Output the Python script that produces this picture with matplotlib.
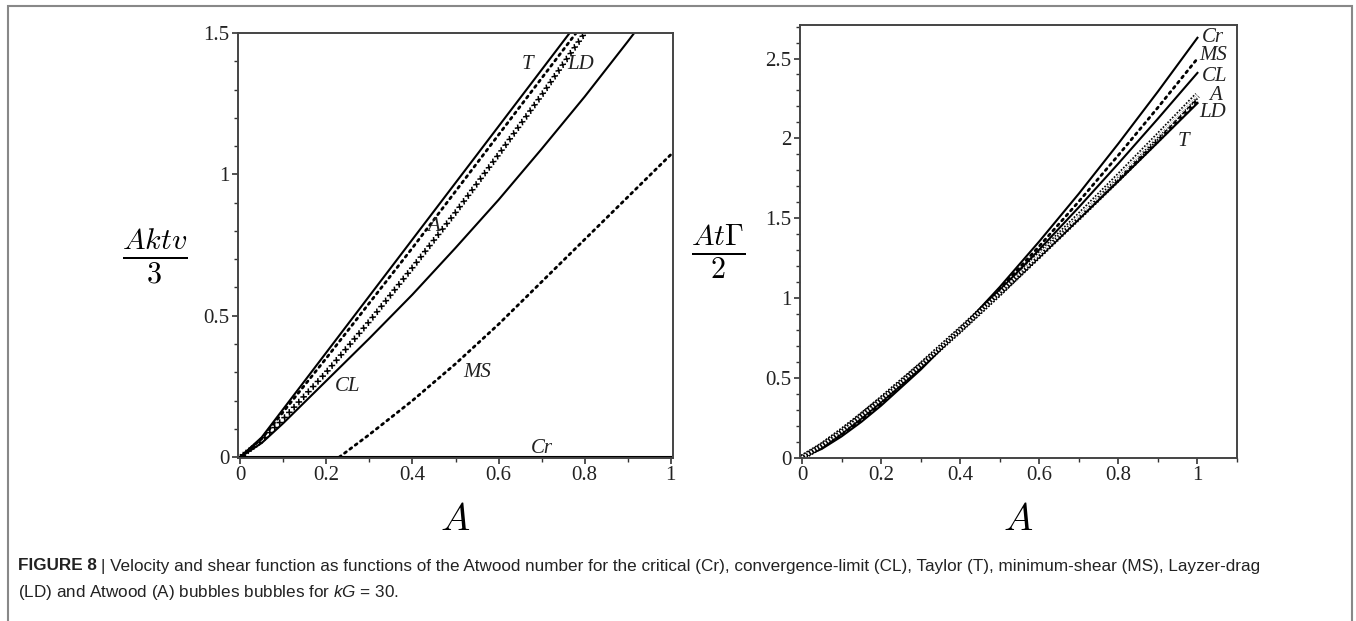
import matplotlib
matplotlib.use('Agg')
import matplotlib.pyplot as plt
import matplotlib.patheffects as pe
from matplotlib.patches import Rectangle
from matplotlib.ticker import MultipleLocator

plt.rcParams['font.family'] = ['Liberation Serif', 'DejaVu Serif']
plt.rcParams['mathtext.fontset'] = 'custom'
plt.rcParams['mathtext.it'] = 'Liberation Sans:italic'
plt.rcParams['mathtext.rm'] = 'Liberation Sans'

# left panel: velocity
a_t = [0, 0.05, 0.1, 0.2, 0.3, 0.4, 0.5, 0.6, 0.7, 0.8]
v_t = [0, 0.07, 0.17, 0.37, 0.57, 0.77, 0.97, 1.17, 1.37, 1.57]
a_a = [0, 0.05, 0.1, 0.2, 0.3, 0.4, 0.5, 0.6, 0.7, 0.8]
v_a = [0, 0.065, 0.16, 0.35, 0.545, 0.74, 0.94, 1.14, 1.34, 1.54]
a_ld = [0, 0.05, 0.1, 0.2, 0.3, 0.4, 0.5, 0.6, 0.7, 0.8]
v_ld = [0, 0.058, 0.135, 0.30, 0.48, 0.67, 0.865, 1.07, 1.28, 1.50]
a_cl = [0, 0.05, 0.1, 0.2, 0.3, 0.4, 0.5, 0.6, 0.7, 0.8, 0.9, 0.95]
v_cl = [0, 0.05, 0.12, 0.27, 0.42, 0.575, 0.74, 0.91, 1.09, 1.275, 1.47, 1.57]
a_ms = [0.23, 0.3, 0.4, 0.5, 0.6, 0.7, 0.8, 0.9, 1.0]
v_ms = [0, 0.08, 0.20, 0.33, 0.47, 0.62, 0.77, 0.92, 1.07]
a_cr = [0, 1.0]
v_cr = [0, 0]

# right panel: shear function
a_r = [0, 0.05, 0.1, 0.15, 0.2, 0.3, 0.4, 0.5, 0.6, 0.7, 0.8, 0.9, 1.0]
g_cr = [0, 0.054, 0.132, 0.223, 0.325, 0.550, 0.800, 1.068, 1.354, 1.653, 1.967, 2.293, 2.63]
g_ms = [0, 0.060, 0.143, 0.236, 0.338, 0.559, 0.800, 1.056, 1.324, 1.604, 1.894, 2.193, 2.50]
g_cl = [0, 0.065, 0.151, 0.246, 0.347, 0.565, 0.800, 1.047, 1.303, 1.568, 1.842, 2.123, 2.41]
g_a = [0, 0.075, 0.165, 0.262, 0.364, 0.577, 0.800, 1.031, 1.270, 1.513, 1.761, 2.014, 2.27]
g_ld = [0, 0.077, 0.168, 0.266, 0.367, 0.579, 0.800, 1.028, 1.262, 1.500, 1.743, 1.990, 2.24]
g_t = [0, 0.079, 0.171, 0.268, 0.370, 0.581, 0.800, 1.026, 1.257, 1.493, 1.731, 1.975, 2.22]

caption_head = 'FIGURE 8'
caption1 = ('| Velocity and shear function as functions of the Atwood number for the critical (Cr), '
            'convergence-limit (CL), Taylor (T), minimum-shear (MS), Layzer-drag')
caption2 = '(LD) and Atwood (A) bubbles bubbles for $kG$ = 30.'

W, H = 1356, 621
fig = plt.figure(figsize=(W / 100, H / 100), dpi=100)

def px(x0, y0, x1, y1):
    return [x0 / W, 1 - y1 / H, (x1 - x0) / W, (y1 - y0) / H]

ax1 = fig.add_axes(px(238, 33, 673, 458))
ax2 = fig.add_axes(px(800, 25, 1237, 458))

solid = dict(color='black', lw=1.5)
dotted = dict(color='black', lw=2.0, ls=(0, (0.8, 1.6)), dash_capstyle='round')
crosses = [pe.TickedStroke(spacing=5.0, angle=a, length=0.36, linewidth=1.1)
           for a in (45, -45, 135, -135)]
rings = [pe.Stroke(linewidth=4.5, foreground='black'),
         pe.Stroke(linewidth=2.2, foreground='white')]

ax1.plot(a_t, v_t, **solid)
ax1.plot(a_a, v_a, **dotted)
ax1.plot(a_ld, v_ld, color='black', lw=0.4, path_effects=crosses)
ax1.plot(a_cl, v_cl, **solid)
ax1.plot(a_ms, v_ms, **dotted)
ax1.plot(a_cr, v_cr, **solid)

ax2.plot(a_r, g_cr, **solid)
ax2.plot(a_r, g_ms, **dotted)
ax2.plot(a_r, g_cl, **solid)
ax2.plot(a_r, g_t, **solid)
ax2.plot(a_r, g_ld, color='black', lw=0.4, path_effects=crosses)
ax2.plot(a_r, g_a, color='black', lw=1.0, ls=(0, (1.2, 1.2)), path_effects=rings)

lab = dict(fontsize=15, style='italic', color='#222222')
ax1.text(0.668, 1.39, 'T', ha='center', va='center', **lab)
ax1.text(0.79, 1.39, 'LD', ha='center', va='center', **lab)
ax1.text(0.448, 0.815, 'A', ha='center', va='center', **lab)
ax1.text(0.25, 0.25, 'CL', ha='center', va='center', **lab)
ax1.text(0.55, 0.30, 'MS', ha='center', va='center', **lab)
ax1.text(0.70, 0.03, 'Cr', ha='center', va='center', **lab)

ax2.text(1.01, 2.63, 'Cr', ha='left', va='center', **lab)
ax2.text(1.005, 2.52, 'MS', ha='left', va='center', **lab)
ax2.text(1.01, 2.39, 'CL', ha='left', va='center', **lab)
ax2.text(1.03, 2.27, 'A', ha='left', va='center', **lab)
ax2.text(1.005, 2.16, 'LD', ha='left', va='center', **lab)
ax2.text(0.95, 1.98, 'T', ha='left', va='center', **lab)

for ax, xmax, ymax in [(ax1, 1.005, 1.5), (ax2, 1.1, 2.71)]:
    ax.set_xlim(-0.005, xmax)
    ax.set_ylim(-0.003, ymax)
    ax.xaxis.set_major_locator(MultipleLocator(0.2))
    ax.xaxis.set_minor_locator(MultipleLocator(0.1))
    ax.yaxis.set_major_locator(MultipleLocator(0.5))
    ax.yaxis.set_minor_locator(MultipleLocator(0.1))
    ax.tick_params(which='major', direction='out', length=4, width=1.2, labelsize=15,
                   color='#333333', labelcolor='#222222', pad=2)
    ax.tick_params(which='minor', direction='out', length=3, width=1.0, color='#333333')
    ax.xaxis.set_major_formatter(plt.FuncFormatter(lambda v, p: '%g' % round(v, 2)))
    ax.yaxis.set_major_formatter(plt.FuncFormatter(lambda v, p: '%g' % round(v, 2)))
    for s in ax.spines.values():
        s.set_linewidth(1.4)
        s.set_color('#444444')

fig.text(455 / W, 1 - 520 / H, '$A$', fontsize=28, ha='center', va='center', math_fontfamily='cm')
fig.text(1018 / W, 1 - 520 / H, '$A$', fontsize=28, ha='center', va='center', math_fontfamily='cm')
fig.text(155 / W, 1 - 257 / H, r'$\frac{Aktv}{3}$', fontsize=31, ha='center', va='center', math_fontfamily='cm')
fig.text(718 / W, 1 - 252 / H, r'$\frac{At\Gamma}{2}$', fontsize=31, ha='center', va='center', math_fontfamily='cm')

cap = dict(fontsize=12.3, color='#222222', family=['Liberation Sans', 'DejaVu Sans'])
head = fig.text(18 / W, 1 - 566 / H, caption_head, fontweight='bold', ha='left', va='center', **cap)
renderer = fig.canvas.get_renderer()
bb = head.get_window_extent(renderer)
fig.text((bb.x1 + 4) / W, 1 - 566 / H, caption1, ha='left', va='center', **cap)
fig.text(18 / W, 1 - 592 / H, caption2, ha='left', va='center', **cap)

fig.add_artist(Rectangle((8 / W, -0.02), (1352 - 8) / W, 1 - 6 / H + 0.02, transform=fig.transFigure,
                         fill=False, lw=1.5, edgecolor='#888888'))

fig.savefig('out.png', dpi=100, facecolor='white')
